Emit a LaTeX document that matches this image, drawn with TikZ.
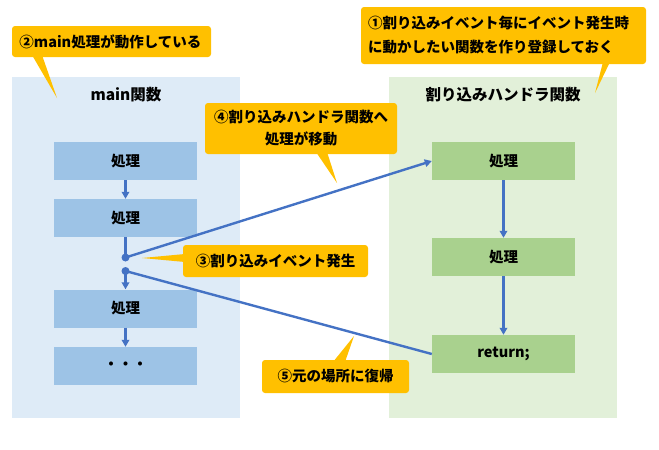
\documentclass[tikz,border=0pt]{standalone}
\usepackage{fontspec}
\setmainfont{Noto Sans CJK JP}
\usetikzlibrary{arrows.meta}
\definecolor{panelblue}{HTML}{DEEBF7}
\definecolor{panelgreen}{HTML}{E2F0D9}
\definecolor{boxblue}{HTML}{9DC3E6}
\definecolor{boxgreen}{HTML}{A9D18E}
\definecolor{callorange}{HTML}{FFC000}
\definecolor{flowblue}{HTML}{4472C4}
\begin{document}
\begin{tikzpicture}[x=1pt,y=-1pt,
  font=\fontsize{14.5}{16}\selectfont\bfseries,
  panel/.style={draw=none,inner sep=0pt,minimum width=228pt,minimum height=341pt},
  titletext/.style={font=\fontsize{15.5}{18}\selectfont\bfseries},
  procL/.style={fill=boxblue,draw=none,minimum width=143pt,minimum height=38pt,inner sep=0pt},
  procR/.style={fill=boxgreen,draw=none,minimum width=143pt,minimum height=38pt,inner sep=0pt},
  flow/.style={draw=flowblue,line width=2.4pt,-{Triangle[length=7pt,width=7.5pt]}},
  plain/.style={draw=flowblue,line width=2.4pt},
  dotnode/.style={circle,fill=flowblue,inner sep=0pt,minimum size=8pt},
  callout/.style={fill=callorange,draw=none,rounded corners=3pt,inner sep=0pt},
  calltail/.style={fill=callorange,draw=none}]
\useasboundingbox (0,0) rectangle (659,450);
% panels
\node[panel,fill=panelblue] (pm) at (126,247.5) {};
\node[panel,fill=panelgreen] (ph) at (503,247.5) {};
\node[titletext] (tm) at (126,95) {main関数};
\node[titletext] (th) at (503,95) {割り込みハンドラ関数};
% main boxes
\node[procL] (m1) at (125.5,161) {処理};
\node[procL] (m2) at (125.5,218) {処理};
\node[procL] (m3) at (125.5,308.5) {処理};
\node[procL] (m4) at (125.5,366) {・・・};
\node[dotnode] (d1) at (125.5,257.5) {};
\node[dotnode] (d2) at (125.5,271) {};
% handler boxes
\node[procR] (h1) at (503.5,161) {処理};
\node[procR] (h2) at (503.5,257) {処理};
\node[procR] (h3) at (503.5,354) {return;};
% connectors
\draw[flow] (m1) -- (m2);
\draw[plain] (m2) -- (d1.center);
\draw[flow] (d2.center) -- (m3);
\draw[flow] (m3) -- (m4);
\draw[flow] (d1.center) -- (h1.west);
\draw[plain] (d2.center) -- (h3.west);
\draw[flow] (h1) -- (h2);
\draw[flow] (h2) -- (h3);
% callout 2
\fill[calltail] (32,55) -- (57,98) -- (42,55) -- cycle;
\node[callout,minimum width=199pt,minimum height=31pt,text width=184pt,align=left] (c2) at (111.5,41.5) {②main処理が動作している};
% callout 1
\fill[calltail] (603,62) -- (595,93) -- (610,62) -- cycle;
\node[callout,minimum width=285pt,minimum height=57pt,text width=271pt,align=left,
  font=\fontsize{14.5}{24}\selectfont\bfseries] (c1) at (503.5,35.5) {①割り込みイベント毎にイベント発生時\\に動かしたい関数を作り登録しておく};
% callout 4
\fill[calltail] (316,152) -- (337,183) -- (327,152) -- cycle;
\node[callout,minimum width=192pt,minimum height=51pt,align=center,
  font=\fontsize{14.5}{22}\selectfont\bfseries] (c4) at (301,128.5) {④割り込みハンドラ関数へ\\処理が移動};
% callout 3
\fill[calltail] (185,254) -- (142,258) -- (185,262) -- cycle;
\node[callout,minimum width=185pt,minimum height=32pt,align=center] (c3) at (275.5,261) {③割り込みイベント発生};
% callout 5
\fill[calltail] (333,362) -- (354,336) -- (345,362) -- cycle;
\node[callout,minimum width=147pt,minimum height=33pt,align=center] (c5) at (335.5,376.5) {⑤元の場所に復帰};
\end{tikzpicture}
\end{document}
